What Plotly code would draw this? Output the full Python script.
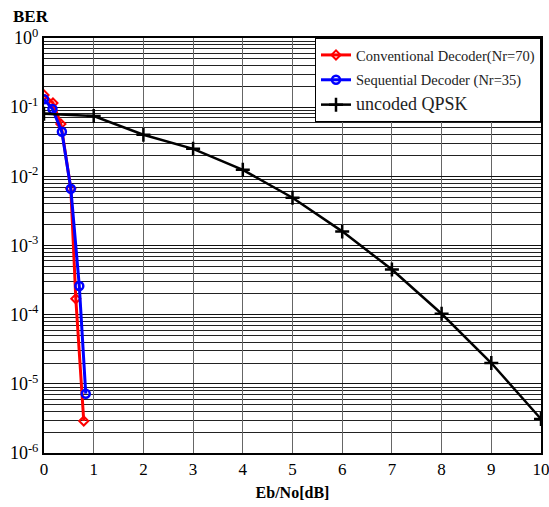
import plotly.graph_objects as go

conv_x = [0, 0.18, 0.34, 0.54, 0.64, 0.8]
conv_ber = [0.15, 0.115, 0.057, 6.6e-3, 1.7e-4, 2.9e-6]

seq_x = [0, 0.17, 0.36, 0.54, 0.71, 0.84]
seq_ber = [0.13, 0.094, 0.044, 6.6e-3, 2.6e-4, 7.2e-6]

unc_x = [0, 1, 2, 3, 4, 5, 6, 7, 8, 9, 10]
unc_ber = [0.08, 0.0746, 0.04, 0.025, 0.0124, 0.0049, 0.0016, 4.5e-4, 1.03e-4, 2.0e-5, 3.1e-6]

y_tickvals = [1, 1e-1, 1e-2, 1e-3, 1e-4, 1e-5, 1e-6]
y_ticktext = ["10<sup>0</sup>", "10<sup>-1</sup>", "10<sup>-2</sup>", "10<sup>-3</sup>",
              "10<sup>-4</sup>", "10<sup>-5</sup>", "10<sup>-6</sup>"]
x_tickvals = list(range(0, 11))

serif = "Liberation Serif"

fig = go.Figure()
fig.add_trace(go.Scatter(x=conv_x, y=conv_ber, mode="lines+markers",
                         name="Conventional Decoder(Nr=70)", legendgroup="a",
                         line=dict(color="#ff0000", width=3),
                         marker=dict(symbol="diamond-open", size=7, color="#ff0000", line=dict(width=2))))
fig.add_trace(go.Scatter(x=seq_x, y=seq_ber, mode="lines+markers",
                         name="Sequential Decoder (Nr=35)", legendgroup="b",
                         line=dict(color="#0000ff", width=3),
                         marker=dict(symbol="circle-open", size=8, color="#0000ff", line=dict(width=2.5))))
fig.add_trace(go.Scatter(x=unc_x, y=unc_ber, mode="lines+markers",
                         name='<span style="font-size:18px">uncoded QPSK</span>', legendgroup="c",
                         line=dict(color="#000000", width=2.5),
                         marker=dict(symbol="cross-thin-open", size=10, color="#000000", line=dict(width=2.5, color="#000000"))))

fig.update_layout(
    width=549, height=507,
    margin=dict(l=44, r=8, t=38, b=54, autoexpand=False),
    paper_bgcolor="white", plot_bgcolor="white",
    font=dict(family=serif, color="black"),
    showlegend=True,
    legend=dict(x=1.0, y=1.0, xanchor="right", yanchor="top",
                bgcolor="white", bordercolor="black", borderwidth=1,
                font=dict(family=serif, size=14.5, color="#222"),
                tracegroupgap=3, itemwidth=30),
    xaxis=dict(range=[0, 10], tickvals=x_tickvals, showgrid=True, gridcolor="#666666", gridwidth=1.3,
               showline=True, linecolor="black", linewidth=2, mirror=True, ticks="",
               automargin=False, ticklabeloverflow="allow",
               tickfont=dict(family=serif, size=17, color="black"), zeroline=False,
               title=dict(text="<b>Eb/No[dB]</b>", font=dict(family=serif, size=16, color="black"), standoff=8)),
    yaxis=dict(type="log", range=[-6, 0], tickvals=y_tickvals, ticktext=y_ticktext,
               showgrid=True, gridcolor="#111111", gridwidth=1.3,
               minor=dict(showgrid=True, dtick="D1", gridcolor="#222222", gridwidth=1, ticks=""),
               showline=True, linecolor="black", linewidth=2, mirror=True, ticks="",
               automargin=False, ticklabeloverflow="allow",
               tickfont=dict(family=serif, size=18, color="black"), zeroline=False),
)
fig.add_annotation(text="<b>BER</b>", xref="paper", yref="paper", x=-0.066, y=1.025,
                   xanchor="left", yanchor="bottom", showarrow=False,
                   font=dict(family=serif, size=17, color="black"))

fig.write_html("out.html")
